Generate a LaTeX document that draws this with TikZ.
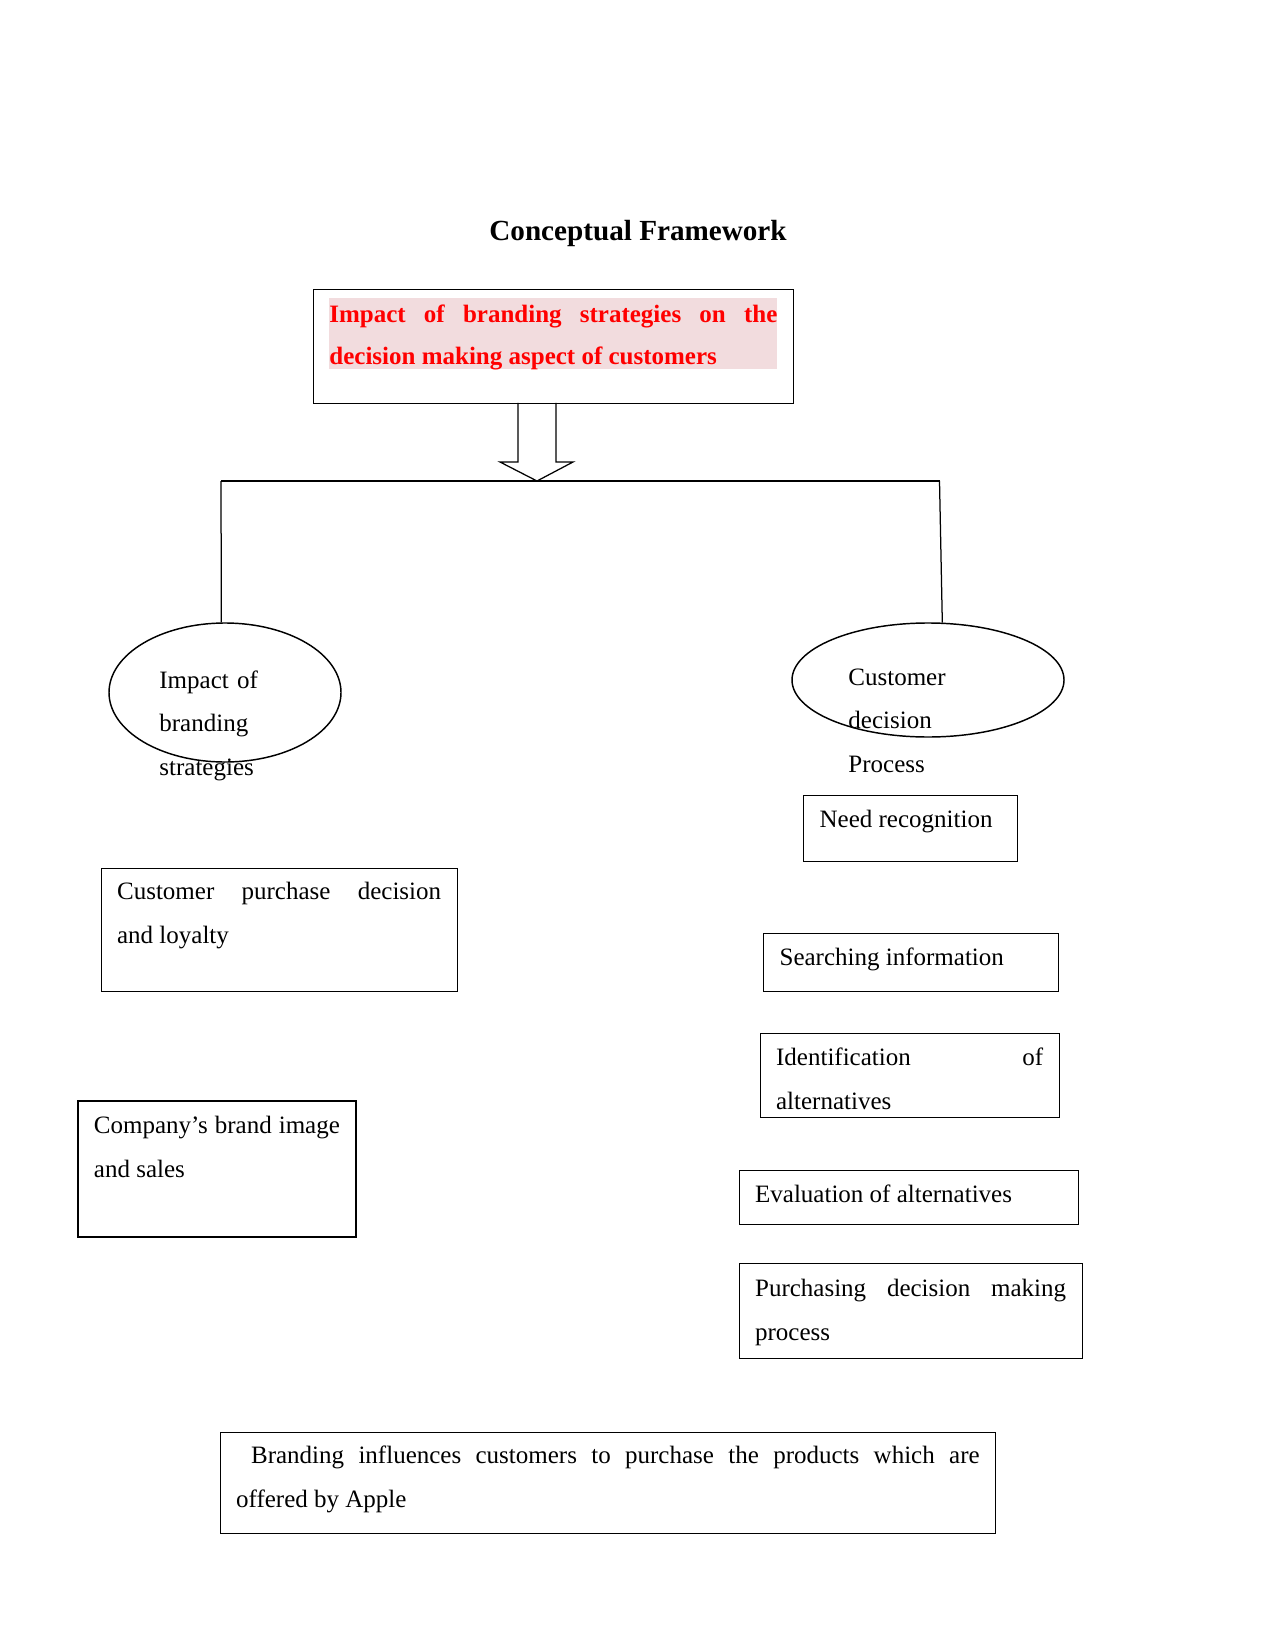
\documentclass[tikz,border=0pt]{standalone}
\usepackage{fontspec}
\setmainfont{Liberation Serif}
\usetikzlibrary{shapes.geometric}
\definecolor{hlcol}{RGB}{242, 220, 222}
\definecolor{redcol}{RGB}{255, 0, 0}
\definecolor{linecol}{RGB}{0, 0, 0}
\newcommand{\bodysize}{\fontsize{12}{21}\selectfont}
\tikzset{
  cbox/.style    = {draw=linecol, line width=0.6pt, align=justify, font=\bodysize,
                    inner xsep=7.68pt, inner ysep=0pt, anchor=north west},
  hlbox/.style   = {fill=hlcol, text=redcol, align=justify, inner sep=0pt,
                    font=\fontsize{12}{20}\selectfont\bfseries, anchor=north west},
  ttl/.style     = {font=\fontsize{14}{16}\selectfont\bfseries, inner sep=0pt},
  oval/.style    = {draw=linecol, line width=0.7pt, ellipse, inner sep=0pt},
  ovaltxt/.style = {font=\bodysize, align=left, text width=100pt, inner sep=0pt,
                    anchor=base west},
  link/.style    = {draw=linecol, line width=0.6pt},
}
\begin{document}
\begin{tikzpicture}[x=0.48pt, y=-0.48pt]
  \useasboundingbox (0,0) rectangle (1275,1650);

  %% ---------------- heading ----------------
  \node[ttl, anchor=base] (title) at (638,241) {Conceptual Framework};

  \node[cbox, minimum width=230.4pt, minimum height=54.72pt, inner sep=0pt] (topbox) at (313,289) {};
  \node[hlbox, text width=215.04pt, text height=11.52pt, text depth=22.56pt] (toptext) at (329,298)
       {Impact of branding strategies on the\linebreak decision making aspect of customers};

  %% ---------------- split ----------------
  \coordinate (split) at (537,481);
  \coordinate (lcorner) at (221,481);
  \coordinate (rcorner) at (939.5,481);
  \draw[link] (518,403) -- (518,462) -- (500,462) -- (split) -- (573,462) -- (556,462) -- (556,403);
  \draw[link] (lcorner) -- (rcorner);

  %% ---------------- the two branches ----------------
  \node[oval, minimum width=111.36pt, minimum height=66.72pt] (lell) at (225,692.5) {};
  \node[oval, minimum width=130.56pt, minimum height=54.72pt] (rell) at (928,680) {};
  \draw[link] (lcorner) -- (lell.93);
  \draw[link] (rcorner) -- (rell.76);

  \node[ovaltxt] (ltxt) at (159,688) {Impact of\\ branding\\ strategies};
  \node[ovaltxt] (rtxt) at (848,685) {Customer\\ decision\\ Process};

  %% ---------------- left column ----------------
  \node[cbox, text width=155.52pt, text height=15.12pt, text depth=44.16pt] (loyal) at (100.5,867.5)
       {Customer purchase decision\linebreak and loyalty};
  \node[cbox, text width=118.08pt, text height=15.55pt, text depth=49.73pt] (image) at (77.3,1100.3)
       {Company’s brand image\linebreak and sales};

  %% ---------------- right column: the stages ----------------
  \node[cbox, text width=87.12pt, text height=15.36pt, text depth=16.32pt] (need) at (803,795)
       {Need recognition};
  \node[cbox, text width=126.24pt, text height=15.36pt, text depth=12.48pt] (search) at (763,933)
       {Searching information};
  \node[cbox, text width=128.16pt, text height=15.36pt, text depth=24.96pt] (ident) at (759.5,1033)
       {Identification of\linebreak alternatives};
  \node[cbox, text width=147.36pt, text height=15.36pt, text depth=10.56pt] (eval) at (738.5,1170)
       {Evaluation of alternatives};
  \node[cbox, text width=149.28pt, text height=15.84pt, text depth=29.76pt] (purch) at (738.5,1263)
       {Purchasing decision making\linebreak process};

  %% ---------------- conclusion ----------------
  \node[cbox, text width=356.88pt, text height=14.88pt, text depth=33.6pt] (concl) at (219.5,1432)
       {\hspace*{7.2pt}Branding influences customers to purchase the products which are\linebreak offered by Apple};

\end{tikzpicture}
\end{document}
